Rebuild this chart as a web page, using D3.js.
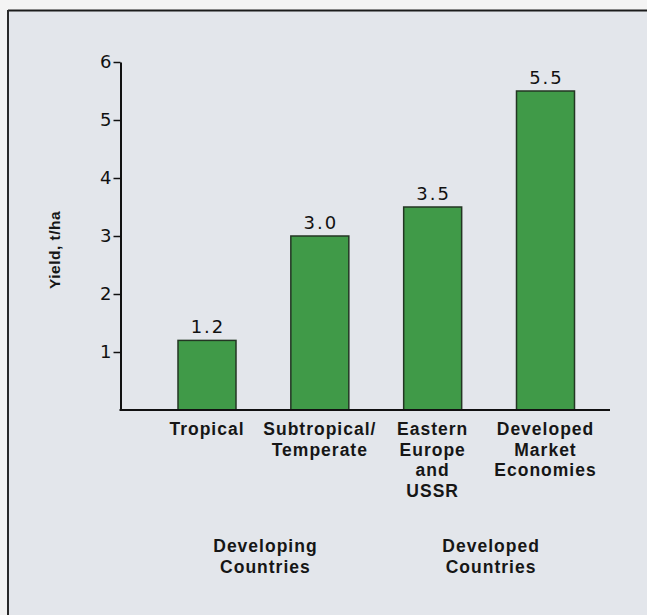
<!DOCTYPE html>
<html>
<head>
<meta charset="utf-8">
<script src="https://cdn.jsdelivr.net/npm/d3@7/dist/d3.min.js"></script>
<style>
  html, body { margin: 0; padding: 0; background: #f3f3f3; }
  svg { display: block; }
</style>
</head>
<body>
<svg id="chart" width="647" height="615"></svg>
<script>
// Grain yield by region
const categories = [
  ["Tropical"],
  ["Subtropical/", "Temperate"],
  ["Eastern", "Europe", "and", "USSR"],
  ["Developed", "Market", "Economies"]
];
const yields = [1.2, 3.0, 3.5, 5.5];
const valueLabels = ["1.2", "3.0", "3.5", "5.5"];
const yTicks = [1, 2, 3, 4, 5, 6];
const yTitle = "Yield, t/ha";
const groupLabels = [["Developing", "Countries"], ["Developed", "Countries"]];
const groupMembers = [[0, 1], [2, 3]];

const svg = d3.select("#chart");
const W = 647, H = 615;

// page panel and frame
svg.append("rect").attr("x", 0).attr("y", 0).attr("width", W).attr("height", 10).attr("fill", "#f4f4f4");
svg.append("rect").attr("x", 8).attr("y", 10).attr("width", W - 8).attr("height", H - 10).attr("fill", "#e3e6eb");
svg.append("line").attr("x1", 8).attr("x2", W).attr("y1", 10.5).attr("y2", 10.5)
  .attr("stroke", "#1c1c1c").attr("stroke-width", 2);
svg.append("line").attr("x1", 8).attr("x2", 8).attr("y1", 10).attr("y2", H)
  .attr("stroke", "#2a2a2a").attr("stroke-width", 2);

const axisX = 120.5, baseY = 410, axisEnd = 610;

const x = d3.scaleBand()
  .domain(d3.range(categories.length))
  .range([178, 574.5])
  .paddingInner(0.486)
  .paddingOuter(0);

const y = d3.scaleLinear().domain([0, 6]).range([baseY, 62]);

// y axis
const yAxis = d3.axisLeft(y).tickValues(yTicks).tickFormat(d3.format("d"))
  .tickSize(7).tickSizeOuter(0).tickPadding(2);
const gy = svg.append("g").attr("transform", `translate(${axisX},0)`).call(yAxis);
gy.select(".domain").attr("stroke", "#111").attr("stroke-width", 2);
gy.selectAll(".tick line").attr("stroke", "#111").attr("stroke-width", 1.5);
gy.selectAll(".tick text")
  .attr("font-family", "'DejaVu Sans', sans-serif")
  .attr("font-size", 18)
  .attr("fill", "#111");

// bars
svg.append("g").selectAll("rect").data(yields).join("rect")
  .attr("x", (d, i) => x(i))
  .attr("y", d => y(d))
  .attr("width", x.bandwidth())
  .attr("height", d => y(0) - y(d))
  .attr("fill", "#409a48")
  .attr("stroke", "#233623")
  .attr("stroke-width", 1.5);

// baseline
svg.append("line").attr("x1", axisX - 1).attr("x2", axisEnd).attr("y1", baseY).attr("y2", baseY)
  .attr("stroke", "#111").attr("stroke-width", 2);

// value labels
svg.append("g").selectAll("text").data(yields).join("text")
  .attr("x", (d, i) => x(i) + x.bandwidth() / 2 + 1)
  .attr("y", d => y(d) - 7)
  .attr("text-anchor", "middle")
  .attr("font-family", "'DejaVu Sans', sans-serif")
  .attr("font-size", 18)
  .attr("letter-spacing", 2)
  .attr("fill", "#111")
  .text((d, i) => valueLabels[i]);

// category labels
const catG = svg.append("g");
categories.forEach((lines, i) => {
  const t = catG.append("text")
    .attr("x", x(i) + x.bandwidth() / 2)
    .attr("y", 435)
    .attr("text-anchor", "middle")
    .attr("font-family", "'Liberation Sans', Arial, sans-serif")
    .attr("font-weight", "bold")
    .attr("font-size", 17.5)
    .attr("letter-spacing", 1)
    .attr("fill", "#161616");
  lines.forEach((s, j) => {
    t.append("tspan").attr("x", x(i) + x.bandwidth() / 2).attr("dy", j === 0 ? 0 : 20.5).text(s);
  });
});

// group labels
groupLabels.forEach((lines, g) => {
  const cx = d3.mean(groupMembers[g], i => x(i) + x.bandwidth() / 2) + 2;
  const t = svg.append("text")
    .attr("x", cx).attr("y", 552)
    .attr("text-anchor", "middle")
    .attr("font-family", "'Liberation Sans', Arial, sans-serif")
    .attr("font-weight", "bold")
    .attr("font-size", 17.5)
    .attr("letter-spacing", 1)
    .attr("fill", "#161616");
  lines.forEach((s, j) => {
    t.append("tspan").attr("x", cx).attr("dy", j === 0 ? 0 : 20.5).text(s);
  });
});

// y axis title
svg.append("text")
  .attr("transform", "translate(60,250) rotate(-90)")
  .attr("text-anchor", "middle")
  .attr("font-family", "'Liberation Sans', Arial, sans-serif")
  .attr("font-weight", "bold")
  .attr("font-size", 15.5)
  .attr("letter-spacing", 0.5)
  .attr("fill", "#161616")
  .text(yTitle);
</script>
</body>
</html>
